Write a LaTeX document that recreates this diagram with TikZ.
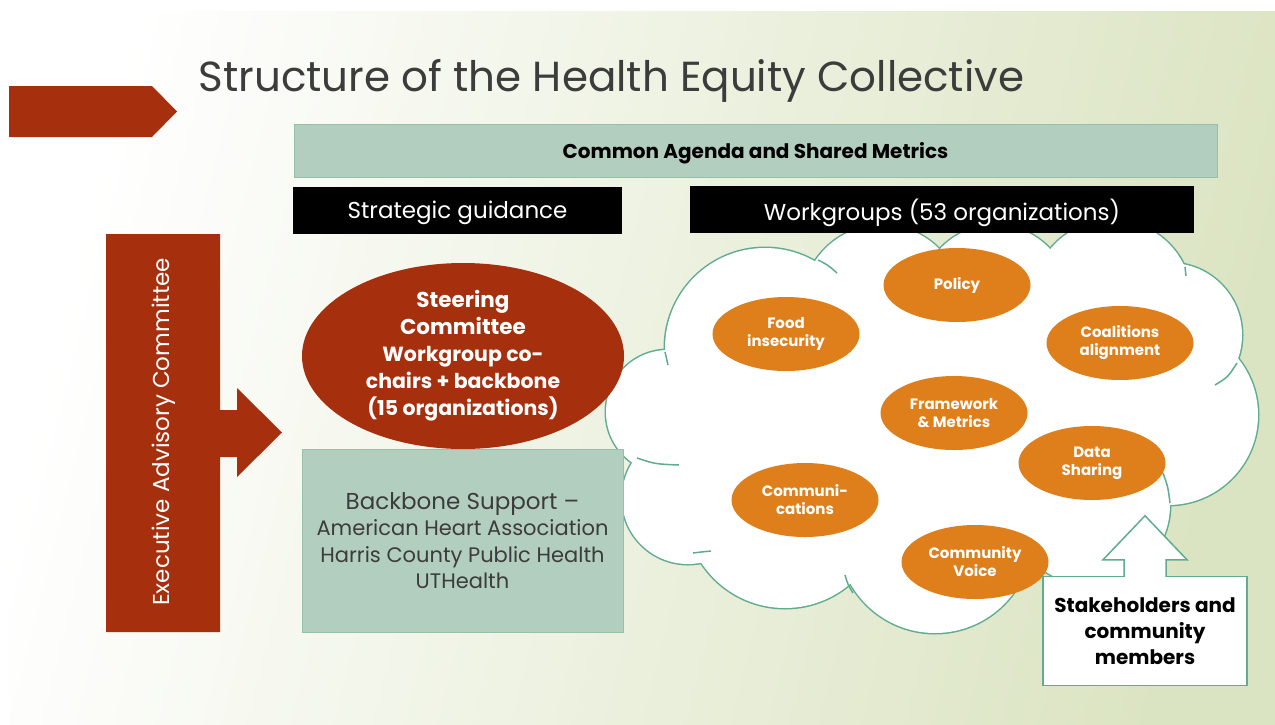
\documentclass[tikz,border=0pt]{standalone}
\usepackage{fontspec}
\setmainfont{Poppins}
\usetikzlibrary{shapes.geometric}
\definecolor{rust}{RGB}{166,47,14}
\definecolor{sage}{RGB}{178,206,190}
\definecolor{sageline}{RGB}{150,192,168}
\definecolor{cloudline}{RGB}{96,172,142}
\definecolor{tangerine}{RGB}{222,127,27}
\definecolor{slidegreen}{RGB}{219,228,194}
\definecolor{inkgray}{RGB}{60,60,60}
\tikzset{
  bar/.style={fill=sage, draw=sageline, line width=1pt, inner sep=0pt},
  tag/.style={fill=black, text=white, minimum height=47pt, inner sep=0pt, text depth=0pt,
    font=\fontsize{23}{23}\selectfont},
  group/.style={ellipse, fill=tangerine, text=white, align=center, inner sep=0pt,
    minimum width=147pt, minimum height=74pt,
    font=\bfseries\fontsize{15}{18}\selectfont},
  cloudedge/.style={draw=cloudline, line width=3pt},
  cloudtail/.style={draw=cloudline, line width=1.5pt},
}
\begin{document}
\begin{tikzpicture}[x=1pt, y=-1pt]
    \useasboundingbox (0,0) rectangle (1275,724);
        \fill[white] (0,0) rectangle (1275,724);
        \shade[left color=white, right color=slidegreen, shading angle=76] (9,11) rectangle (1275,724);
        \fill[rust] (9,86) -- (152,86) -- (177,111.5) -- (152,137) -- (9,137) -- cycle;
        \node[anchor=base west, text=inkgray, font=\fontsize{42}{42}\selectfont] (title) at (195,91)
            {Structure of the Health Equity Collective};
        % banners
        \node[bar, minimum width=923pt, minimum height=53pt, text depth=0pt,
            font=\bfseries\fontsize{20}{20}\selectfont]
            (agenda) at (755.5,150.5) {Common Agenda and Shared Metrics};
        \node[tag, minimum width=329pt] (guide) at (457.5,210) {Strategic guidance};
        % cloud
        \def\lobes{765/348/100, 668/412/62, 688/498/66, 785/508/100, 935/536/97, 1090/505/80,
            1168/415/90, 1170/335/72, 1112/300/80, 995/300/75, 882/305/80}
        \foreach \cx/\cy/\r in \lobes
            \draw[cloudedge] (\cx,\cy) circle (\r pt);
        \foreach \cx/\cy/\r in \lobes
            \fill[white] (\cx,\cy) circle (\r pt);
        \fill[white] (930,420) ellipse (230pt and 120pt);
        \draw[cloudtail] (665,352) .. controls (666,358) .. (668,365);
        \draw[cloudtail] (637,458) .. controls (655,464) .. (679,465);
        \draw[cloudtail] (693,553) .. controls (701,552) .. (711,551);
        \draw[cloudtail] (845,575) .. controls (848,585) .. (853,593);
        \draw[cloudtail] (818,260) .. controls (828,265) .. (837,273);
        \draw[cloudtail] (1185,267) .. controls (1186,271) .. (1186,276);
        \draw[cloudtail] (1215,385) .. controls (1228,377) .. (1237,363);
        \draw[cloudtail] (1163,473) .. controls (1168,487) .. (1170,503);
        \node[tag, minimum width=504pt] (wgroups) at (942,209.5) {Workgroups (53 organizations)};
        % workgroups
        \node[group] (policy) at (957,285) {Policy};
        \node[group] (food) at (786,334) {Food\\insecurity};
        \node[group] (coal) at (1120,343) {Coalitions\\alignment};
        \node[group] (frame) at (954,413) {Framework\\\& Metrics};
        \node[group] (data) at (1092,463) {Data\\Sharing};
        \node[group] (comm) at (805,500) {Communi-\\cations};
        \node[group] (voice) at (975,562) {Community\\Voice};
        % left column
        \fill[rust] (106,234) -- (220,234) -- (220,410) -- (237,410) -- (237,388) -- (282,432.5)
            -- (237,477) -- (237,457) -- (220,457) -- (220,632) -- (106,632) -- cycle;
        \node[rotate=90, text=white, font=\fontsize{23}{23}\selectfont] (exec) at (164,432)
            {Executive Advisory Committee};
        \node[ellipse, fill=rust, text=white, align=center, inner sep=-6pt, minimum width=322pt,
            minimum height=186pt, font=\bfseries\fontsize{20.5}{27}\selectfont] (steer) at (463,356)
            {\fontsize{21.5}{27}\selectfont Steering\\\fontsize{21.5}{27}\selectfont Committee\\
             Workgroup co-\\chairs + backbone\\(15 organizations)};
        \node[bar, minimum width=321pt, minimum height=183pt, text=inkgray, align=center,
            font=\fontsize{21}{26.3}\selectfont] (backbone) at (462.5,540.5)
            {\fontsize{23}{26}\selectfont Backbone Support –\\
             American Heart Association\\Harris County Public Health\\UTHealth};
        % stakeholders
        \node[draw=cloudline, fill=white, line width=1.5pt, minimum width=204pt, minimum height=109pt,
            align=center, font=\bfseries\fontsize{20}{26}\selectfont] (people) at (1145,631)
            {Stakeholders and\\community\\members};
        \filldraw[fill=white, draw=cloudline, line width=1.5pt]
            ([xshift=-21pt, yshift=-1pt]people.north) -- ++(0,-17) -- ++(-21,0)
            -- ([yshift=60pt]people.north) -- ++(42,44) -- ++(-21,0) -- ++(0,17);
    \end{tikzpicture}
\end{document}
